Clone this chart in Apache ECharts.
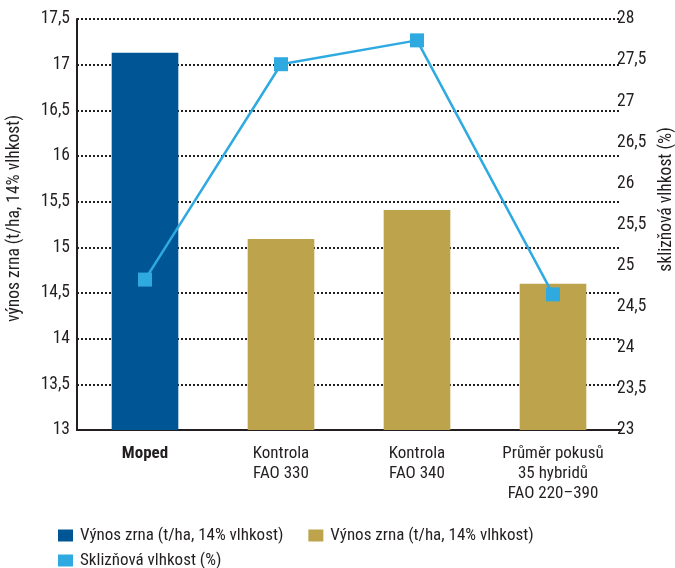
<!DOCTYPE html>
<html>
<head>
<meta charset="utf-8">
<script src="https://cdn.jsdelivr.net/npm/echarts@6/dist/echarts.min.js"></script>
<style>
  html, body { margin: 0; padding: 0; background: #fff; }
  #main { width: 675px; height: 568px; }
</style>
</head>
<body>
<div id="main"></div>
<script>
// data
var categories = ['Moped', 'Kontrola\nFAO 330', 'Kontrola\nFAO 340', 'Průměr pokusů\n35 hybridů\nFAO 220–390'];
var vynosMoped = [17.13, '-', '-', '-'];
var vynosKontrola = ['-', 15.09, 15.41, 14.6];
var vlhkost = [24.83, 27.45, 27.74, 24.65];

var font = '"Roboto Condensed", "Liberation Sans Narrow", sans-serif';
var ink = '#231f20';
var comma = function (v) { return String(v).replace('.', ','); };

var myChart = echarts.init(document.getElementById('main'), null, { renderer: 'canvas' });

var legendText = { fontFamily: font, fontSize: 17, color: ink, padding: [0, 0, 0, 2] };

var option = {
    animation: false,
    textStyle: { fontFamily: font, color: ink },
    grid: { left: 77, right: 54, top: 19, bottom: 138, outerBoundsMode: 'none' },
    legend: [{
        left: 53,
        top: 522,
        itemWidth: 15,
        itemHeight: 12,
        itemGap: 25,
        icon: 'rect',
        textStyle: legendText,
        data: ['Výnos zrna (t/ha, 14% vlhkost)', 'Výnos zrna (t/ha, 14% vlhkost) ']
    }, {
        left: 53,
        top: 547,
        itemWidth: 15,
        itemHeight: 12,
        icon: 'rect',
        textStyle: legendText,
        data: ['Sklizňová vlhkost (%)']
    }],
    xAxis: {
        type: 'category',
        data: categories,
        axisLine: { lineStyle: { color: ink, width: 2 } },
        axisTick: { show: false },
        axisLabel: {
            interval: 0,
            margin: 14,
            fontSize: 17,
            lineHeight: 20,
            color: ink,
            formatter: function (v) { return v === 'Moped' ? '{b|Moped}' : v; },
            rich: { b: { fontWeight: 'bold', fontSize: 17, fontFamily: font, color: ink } }
        }
    },
    yAxis: [{
        type: 'value',
        min: 13,
        max: 17.5,
        interval: 0.5,
        name: 'výnos zrna (t/ha, 14% vlhkost)',
        nameLocation: 'middle',
        nameRotate: 90,
        nameGap: 53,
        nameTextStyle: { fontSize: 17.5, color: ink, padding: [0, 0, 0, 12] },
        axisLine: { show: true, lineStyle: { color: ink, width: 2 } },
        axisTick: { show: false },
        axisLabel: { fontSize: 17.5, margin: 7, color: ink, formatter: comma },
        splitLine: { lineStyle: { color: ink, width: 2, type: [2, 2] } }
    }, {
        type: 'value',
        min: 23,
        max: 28,
        interval: 0.5,
        position: 'right',
        name: 'sklizňová vlhkost (%)',
        nameLocation: 'middle',
        nameRotate: 90,
        nameGap: 32,
        nameTextStyle: { fontSize: 17.5, color: ink, padding: [0, 0, 0, 50] },
        axisLine: { show: false },
        axisTick: { show: false },
        axisLabel: { fontSize: 17.5, margin: -4, color: ink, formatter: comma },
        splitLine: { show: false }
    }],
    series: [{
        name: 'Výnos zrna (t/ha, 14% vlhkost)',
        type: 'bar',
        data: vynosMoped,
        barWidth: '49%',
        barGap: '-100%',
        itemStyle: { color: '#005595' }
    }, {
        name: 'Výnos zrna (t/ha, 14% vlhkost) ',
        type: 'bar',
        data: vynosKontrola,
        barWidth: '49%',
        itemStyle: { color: '#bda34b' }
    }, {
        name: 'Sklizňová vlhkost (%)',
        type: 'line',
        yAxisIndex: 1,
        data: vlhkost,
        symbol: 'rect',
        symbolSize: 14,
        lineStyle: { color: '#2eaae1', width: 2.5 },
        itemStyle: { color: '#2eaae1' }
    }]
};
myChart.setOption(option);
</script>
</body>
</html>
